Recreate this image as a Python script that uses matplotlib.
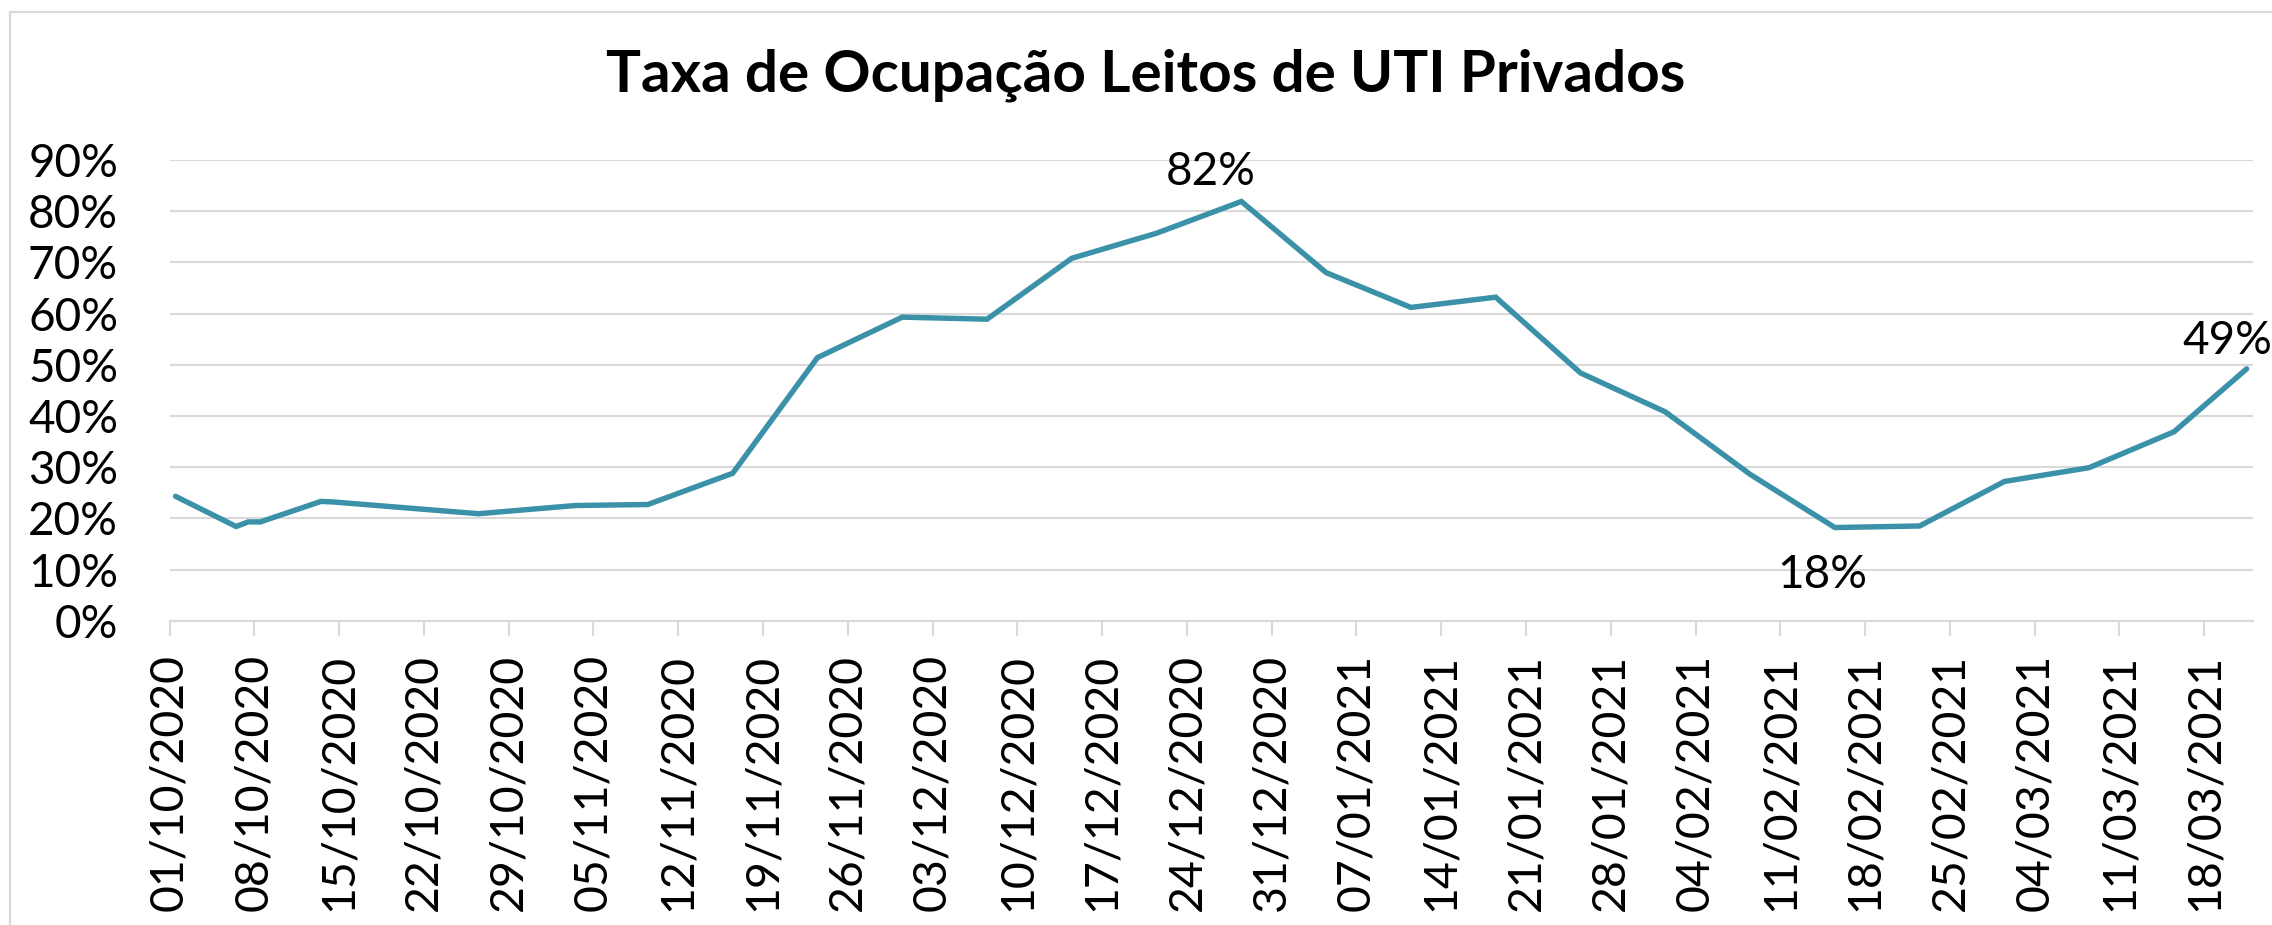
import matplotlib
matplotlib.use("Agg")
import matplotlib.pyplot as plt
import matplotlib.dates as mdates
from matplotlib.patches import Rectangle
import pandas as pd
import numpy as np

plt.rcParams['font.family'] = ['Lato', 'DejaVu Sans']

# ---- data ----
dates = ["01/10/2020", "06/10/2020", "07/10/2020", "08/10/2020", "13/10/2020", "14/10/2020",
         "26/10/2020", "03/11/2020", "09/11/2020", "16/11/2020", "23/11/2020", "30/11/2020",
         "07/12/2020", "14/12/2020", "21/12/2020", "28/12/2020", "04/01/2021", "11/01/2021",
         "18/01/2021", "25/01/2021", "01/02/2021", "08/02/2021", "15/02/2021", "22/02/2021",
         "01/03/2021", "08/03/2021", "15/03/2021", "21/03/2021"]
values = [24.3, 18.4, 19.3, 19.3, 23.3, 23.2,
          20.9, 22.5, 22.7, 28.8, 51.4, 59.3,
          58.9, 70.8, 75.7, 81.9, 68.0, 61.2,
          63.2, 48.4, 40.8, 28.6, 18.2, 18.5,
          27.2, 29.9, 36.9, 49.2]
labelled = {"28/12/2020": "82%", "15/02/2021": "18%", "21/03/2021": "49%"}
tick_start, tick_end = "01/10/2020", "18/03/2021"
axis_end = "22/03/2021"
title = "Taxa de Ocupação Leitos de UTI Privados"
yticks = list(range(0, 91, 10))

# ---- figure ----
W, H = 2272, 925
fig = plt.figure(figsize=(W / 100, H / 100), dpi=100)
fig.patch.set_facecolor("white")

# chart-area border (top/left visible)
fig.add_artist(Rectangle((9.7 / W, -0.1), 1.2, 1.1 - 11.7 / H, transform=fig.transFigure,
                         fill=False, edgecolor="#D9D9D9", linewidth=1.6))

left, right = 169.5 / W, 2252.7 / W
bottom, top = (H - 620.7) / H, (H - 160.0) / H
ax = fig.add_axes([left, bottom, right - left, top - bottom])

d = pd.to_datetime(dates, format="%d/%m/%Y")
# Excel date axis: each day occupies a slot, points at the slot centre
x = mdates.date2num(d) + 0.5
y = np.array(values)
line_color = "#3A91A8"
ax.plot(x, y, color=line_color, linewidth=3.9, solid_capstyle="round",
        solid_joinstyle="miter", zorder=3)

offsets = {"82%": (-22, 6, "bottom"), "18%": (-9, -19, "top"), "49%": (-14, 5, "bottom")}
for ds, txt in labelled.items():
    i = dates.index(ds)
    dx, dy, va = offsets[txt]
    ax.annotate(txt, (x[i], y[i]), xytext=(dx, dy), textcoords="offset points",
                ha="center", va=va, fontsize=33, color="black", zorder=4)

t0 = pd.to_datetime(tick_start, format="%d/%m/%Y")
t1 = pd.to_datetime(tick_end, format="%d/%m/%Y")
tick_dates = pd.date_range(t0, t1, freq="7D")
ax.set_xticks(mdates.date2num(tick_dates))
ax.set_xticklabels([t.strftime("%d/%m/%Y") for t in tick_dates], rotation=90, fontsize=33.5)
ax.set_xlim(mdates.date2num(t0), mdates.date2num(pd.to_datetime(axis_end, format="%d/%m/%Y")))

ax.set_ylim(0, 90)
ax.set_yticks(yticks)
ax.set_yticklabels([f"{v}%" for v in yticks], fontsize=33)

ax.grid(axis="y", color="#D9D9D9", linewidth=1.5, zorder=0)
ax.set_axisbelow(True)
for s in ["top", "right", "left"]:
    ax.spines[s].set_visible(False)
ax.spines["bottom"].set_color("#D9D9D9")
ax.spines["bottom"].set_linewidth(1.5)
ax.tick_params(axis="x", length=11, width=1.5, color="#D9D9D9", pad=13, direction="out")
ax.tick_params(axis="y", length=0, pad=37)

fig.text(1146 / W, (H - 91.7) / H, title, ha="center", va="baseline",
         fontsize=42, fontweight="bold", color="black")

fig.savefig("out.png", dpi=100, facecolor="white")
